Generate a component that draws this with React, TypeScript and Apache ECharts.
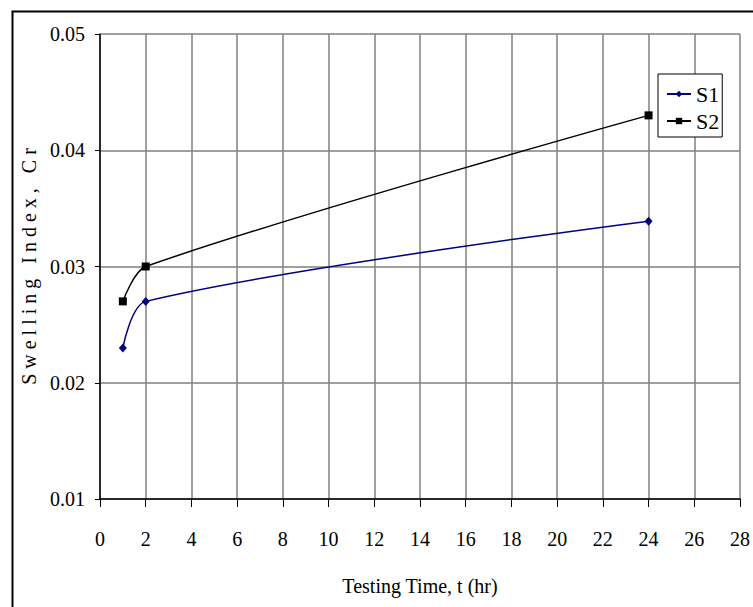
import React, { useEffect, useRef } from "react";
import * as echarts from "echarts";

const testingTimes = [1, 2, 24];
const seriesNames = ["S1", "S2"];
const s1Values = [0.023, 0.027, 0.0339];
const s2Values = [0.027, 0.03, 0.043];
const xTitle = "Testing Time, t (hr)";
const yTitle = "S w e l l i n g   I n d e x ,   C r";

const FONT = "'Liberation Serif', 'Times New Roman', serif";

export default function App() {
  const ref = useRef<HTMLDivElement>(null);
  useEffect(() => {
    if (!ref.current) return;
    const chart = echarts.init(ref.current, undefined, { renderer: "svg" });
    const pairs = (vals: number[]) => testingTimes.map((t, i) => [t, vals[i]]);
    chart.setOption({
      animation: false,
      backgroundColor: "#ffffff",
      textStyle: { fontFamily: FONT },
      graphic: [
        {
          type: "rect",
          left: 10,
          top: 9,
          shape: { width: 760, height: 620 },
          style: { fill: "none", stroke: "#000", lineWidth: 2 },
          z: -1,
        },
      ],
      grid: { left: 100, right: 13, top: 34, bottom: 108, containLabel: false, outerBoundsMode: "none" },
      legend: {
        orient: "vertical",
        left: 658,
        top: 74,
        padding: [9, 3, 5, 8],
        itemGap: 5,
        itemWidth: 24,
        itemHeight: 8,
        backgroundColor: "#fff",
        borderColor: "#000",
        borderWidth: 1,
        borderRadius: 0,
        textStyle: { fontFamily: "Liberation Serif", fontSize: 22, color: "#000" },
        data: seriesNames,
      },
      xAxis: {
        type: "value",
        min: 0,
        max: 28,
        interval: 2,
        name: xTitle,
        nameLocation: "middle",
        nameGap: 77,
        nameTextStyle: { fontFamily: FONT, fontSize: 20, color: "#000" },
        axisLine: { show: true, onZero: false, lineStyle: { color: "#000", width: 1.5 } },
        axisTick: { show: true, length: 8, lineStyle: { color: "#000" } },
        axisLabel: { fontFamily: FONT, fontSize: 20, color: "#000", margin: 30 },
        splitLine: { show: true, lineStyle: { color: "#808080", width: 1.5 } },
      },
      yAxis: {
        type: "value",
        min: 0.01,
        max: 0.05,
        interval: 0.01,
        name: yTitle,
        nameLocation: "middle",
        nameGap: 60,
        nameRotate: 90,
        nameTextStyle: { fontFamily: FONT, fontSize: 20, color: "#000" },
        axisLine: { show: true, onZero: false, lineStyle: { color: "#000", width: 1.5 } },
        axisTick: { show: true, length: 5, lineStyle: { color: "#000" } },
        axisLabel: {
          fontFamily: FONT,
          fontSize: 20,
          color: "#000",
          margin: 15,
          formatter: (v: number) => v.toFixed(2),
        },
        splitLine: { show: true, lineStyle: { color: "#808080", width: 1.5 } },
      },
      series: [
        {
          name: seriesNames[0],
          type: "line",
          data: pairs(s1Values),
          smooth: 0.3,
          symbol: "diamond",
          symbolSize: [8, 9],
          color: "#000080",
          lineStyle: { color: "#000080", width: 1.5 },
          itemStyle: { color: "#000080" },
          z: 3,
        },
        {
          name: seriesNames[1],
          type: "line",
          data: pairs(s2Values),
          smooth: 0.3,
          symbol: "rect",
          symbolSize: 8,
          color: "#000",
          lineStyle: { color: "#000", width: 1.5 },
          itemStyle: { color: "#000" },
          z: 3,
        },
      ],
    });
    return () => chart.dispose();
  }, []);
  return (
    <div
      ref={ref}
      style={{ position: "absolute", left: 0, top: 0, width: 753, height: 607, background: "#fff" }}
    />
  );
}
